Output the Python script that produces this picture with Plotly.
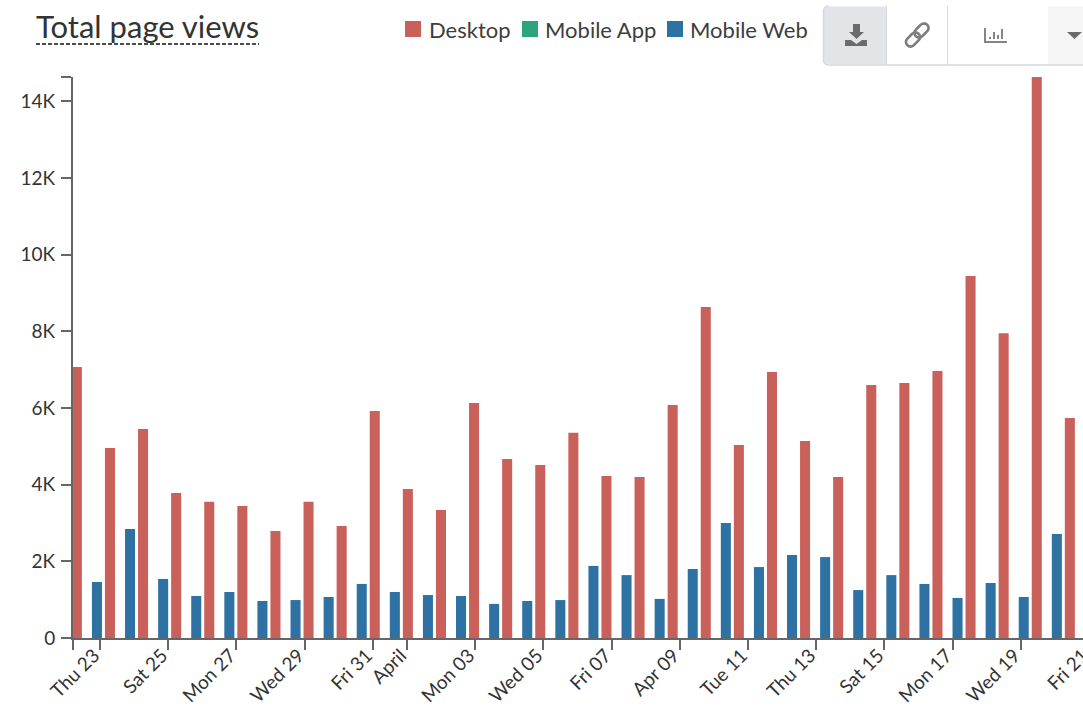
import math
import pandas as pd
import plotly.graph_objects as go

# The plot runs past the right edge of the 1083 px window, as in the reference, where it is cut off.
W, H = 1110, 708
L, R, T, B = 73, 1110, 77, 638

start = "2017-03-22"
days = pd.date_range(start, periods=31, freq="D")
desktop = [7070, 4955, 5450, 3780, 3550, 3440, 2790, 3550, 2920, 5920, 3885, 3340, 6130, 4670, 4510, 5350,
           4225, 4200, 6075, 8630, 5030, 6940, 5140, 4200, 6600, 6650, 6960, 9440, 7950, 14800, 5740]
mobile_app = [0] * 31
mobile_web = [1460, 2840, 1540, 1095, 1200, 965, 990, 1070, 1410, 1200, 1120, 1095, 890, 965, 990, 1880,
              1640, 1020, 1800, 3000, 1850, 2165, 2110, 1250, 1640, 1410, 1045, 1435, 1070, 2710, None]
series_names = ["Desktop", "Mobile App", "Mobile Web"]
series_colors = ["#c9605a", "#2ca57d", "#2e72a3"]

tick_dates = ["2017-03-23", "2017-03-25", "2017-03-27", "2017-03-29", "2017-03-31", "2017-04-01", "2017-04-03",
              "2017-04-05", "2017-04-07", "2017-04-09", "2017-04-11", "2017-04-13", "2017-04-15", "2017-04-17",
              "2017-04-19", "2017-04-21"]
tick_text = ["Thu 23", "Sat 25", "Mon 27", "Wed 29", "Fri 31", "April", "Mon 03", "Wed 05", "Fri 07", "Apr 09",
             "Tue 11", "Thu 13", "Sat 15", "Mon 17", "Wed 19", "Fri 21"]
y_ticks = [0, 2000, 4000, 6000, 8000, 10000, 12000, 14000]
y_text = ["0", "2K", "4K", "6K", "8K", "10K", "12K", "14K"]
y_top = 14630

# The bars sit on a band-like scale (33.1 px/day), the visible date axis on a time scale (34.1 px/day)
px_day = 33.1
range0 = pd.Timestamp("2017-03-23") - pd.Timedelta(days=(100 - L) / px_day)
range1 = range0 + pd.Timedelta(days=(R - L) / px_day)
group_shift = pd.Timedelta(days=(87 - 67) / px_day)
px_day2 = 34.1
range0b = pd.Timestamp("2017-03-23") - pd.Timedelta(days=(100 - L) / px_day2)
range1b = range0b + pd.Timedelta(days=(R - L) / px_day2)

fig = go.Figure()
for name, vals, col in zip(series_names, [desktop, mobile_app, mobile_web], series_colors):
    fig.add_bar(x=days + group_shift, y=vals, name=name, marker=dict(color=col, line_width=0), showlegend=False)
# carries the visible date axis
fig.add_scatter(x=tick_dates, y=[0] * len(tick_dates), xaxis="x2", mode="none", showlegend=False)


def fx(p):
    return (p - L) / (R - L)


def fy(p):
    return (B - p) / (B - T)


def rect(x0, x1, y0, y1, fill, line=None, layer="above"):
    return dict(type="rect", x0=fx(x0), x1=fx(x1), y0=fy(y0), y1=fy(y1), xref="paper", yref="paper",
                fillcolor=fill, layer=layer,
                line=dict(color=line, width=1) if line else dict(width=0))


def poly(points, color, fill=True, width=2):
    path = "M" + " L".join(f"{fx(a):.5f},{fy(b):.5f}" for a, b in points) + (" Z" if fill else "")
    return dict(type="path", path=path, xref="paper", yref="paper", layer="above",
                fillcolor=color if fill else "rgba(0,0,0,0)",
                line=dict(color=color, width=0 if fill else width))


def rounded(x0, x1, y0, y1, r):
    pts = []
    for cx, cy, a0 in [(x1 - r, y0 + r, -90), (x1 - r, y1 - r, 0), (x0 + r, y1 - r, 90), (x0 + r, y0 + r, 180)]:
        for k in range(7):
            a = math.radians(a0 + 15 * k)
            pts.append((cx + r * math.cos(a), cy + r * math.sin(a)))
    return pts


def capsule(cx, cy, half, r):
    # capsule lying along the lower-left to upper-right diagonal
    pts = []
    d = half / math.sqrt(2)
    for ox, oy, a0 in [(cx + d, cy - d, -135), (cx - d, cy + d, 45)]:
        for k in range(10):
            a = math.radians(a0 + 20 * k)
            pts.append((ox + r * math.cos(a), oy + r * math.sin(a)))
    pts.append(pts[0])
    return pts


BORDER = "#d6d8db"
grey = "#6b6b6b"
icon = "#7d7d7d"
shapes = [
    dict(type="line", x0=fx(36), x1=fx(259), y0=fy(44), y1=fy(44), xref="paper", yref="paper",
         line=dict(color="#111111", width=1.5, dash="4px,2px")),
    poly(rounded(823.5, 1100, 6, 65, 5), "#ffffff"),
    poly(rounded(824, 892, 6.5, 64.5, 5), "#e2e4e7"),
    rect(886, 948, 6.5, 64.5, "#ffffff"),
    rect(1048, 1099, 6.5, 64.5, "#f5f5f6"),
    poly(rounded(823.5, 1100, 6, 65, 5), BORDER, False, 1.5),
    dict(type="line", x0=fx(886.5), x1=fx(886.5), y0=fy(6), y1=fy(65), xref="paper", yref="paper",
         line=dict(color=BORDER, width=1), layer="above"),
    dict(type="line", x0=fx(947.5), x1=fx(947.5), y0=fy(6), y1=fy(65), xref="paper", yref="paper",
         line=dict(color=BORDER, width=1), layer="above"),
    poly([(853, 24), (860, 24), (860, 32), (864, 32), (856.5, 39), (849, 32), (853, 32)], grey),
    poly([(845, 40), (851, 40), (856.5, 44), (862, 40), (867, 40), (867, 46), (845, 46)], grey),
    poly(capsule(921.5, 30.5, 3.5, 4.6), icon, False, 2.6),
    poly(capsule(913, 39.5, 3.5, 4.6), icon, False, 2.6),
    poly([(985, 28), (985, 42), (1007, 42)], "#858585", False, 2),
    poly([(990, 39), (990, 37)], "#858585", False, 2),
    poly([(994, 39), (994, 32)], "#858585", False, 2),
    poly([(998, 39), (998, 35)], "#858585", False, 2),
    poly([(1002, 39), (1002, 29)], "#858585", False, 2),
    poly([(1067, 32), (1082, 32), (1074.5, 39)], grey),
]

# legend: swatch left edge and label left edge of each series
legend_swatch_x = [405, 522, 667]
legend_text_x = [429, 545, 690]
annotations = [dict(text="Total page views", x=fx(34), y=fy(25.5), xref="paper", yref="paper",
                    xanchor="left", yanchor="middle", showarrow=False,
                    font=dict(size=31, family="Lato", color="#333333"))]
for name, col, sx, tx in zip(series_names, series_colors, legend_swatch_x, legend_text_x):
    shapes.append(rect(sx, sx + 16, 21, 37, col))
    annotations.append(dict(text=name, x=fx(tx - 2.5), y=fy(29), xref="paper", yref="paper", xanchor="left",
                            yanchor="middle", showarrow=False,
                            font=dict(size=22, family="Lato", color="#3d3d3d")))

fig.update_layout(
    width=W, height=H, margin=dict(l=L, r=W - R, t=T, b=H - B, pad=0, autoexpand=False),
    paper_bgcolor="white", plot_bgcolor="white",
    font=dict(family="Lato", size=19, color="#333333"),
    barmode="group", bargap=0.09, bargroupgap=0,
    hovermode=False, shapes=shapes, annotations=annotations, showlegend=False,
    xaxis=dict(type="date", range=[range0, range1], visible=False, showgrid=False, zeroline=False),
    xaxis2=dict(type="date", overlaying="x", anchor="y", side="bottom", range=[range0b, range1b], tickmode="array",
                tickvals=[range0b] + tick_dates, ticktext=[""] + tick_text, tickangle=-45, automargin=False,
                ticks="outside", ticklen=10, tickwidth=2, tickcolor="#666666", showgrid=False,
                showline=True, linecolor="#666666", linewidth=2, zeroline=False, ticklabelshift=-6,
                ticklabelstandoff=-13,
                tickfont=dict(size=19, family="Lato", color="#333333")),
    yaxis=dict(range=[0, y_top], tickmode="array", tickvals=y_ticks + [y_top], ticktext=y_text + [""],
               ticks="outside", ticklen=10, tickwidth=2, tickcolor="#666666", showgrid=False, automargin=False,
               showline=True, linecolor="#666666", linewidth=2, zeroline=False, ticklabelstandoff=2,
               tickfont=dict(size=19, family="Lato", color="#333333")),
)

fig.write_html("out.html", config=dict(displayModeBar=False),
               post_script="document.body.style.margin='0';document.body.style.overflow='hidden';")
